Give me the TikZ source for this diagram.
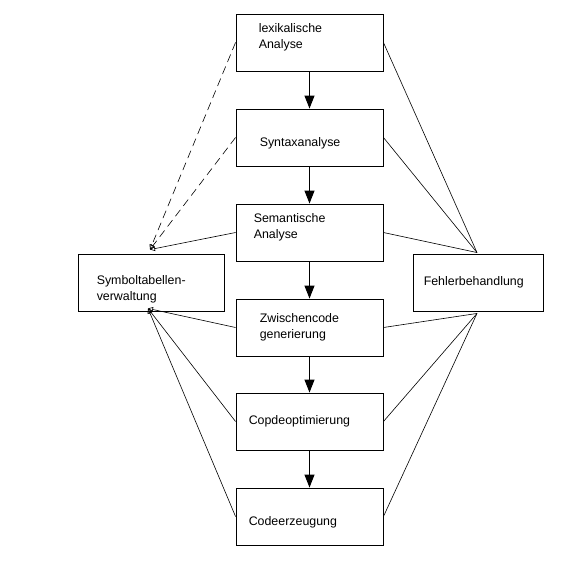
\documentclass[tikz,border=0pt]{standalone}
\usepackage{fontspec}
\setmainfont{Liberation Sans}
\usetikzlibrary{arrows.meta,calc}

\begin{document}
\begin{tikzpicture}[x=1pt,y=-1pt,
     stage/.style={draw,rectangle,line width=0.9pt,minimum width=147pt,minimum height=57pt,inner sep=0pt},
     txt/.style={anchor=west,align=left,inner sep=0pt,font=\fontsize{12.4}{16}\selectfont},
     flow/.style={line width=1pt,-{Triangle[length=13pt,width=10pt]}},
     link/.style={line width=0.6pt},
     tolink/.style={line width=0.6pt,-{Triangle[open,length=5pt,width=5pt]}}
     ]
   \useasboundingbox (0,0) rectangle (565,571);

   % the six phases, text set left in the box
   \foreach \n/\y/\dx/\dy/\desc
      in {lex/42.5/23/-5/{lexikalische\\Analyse},
          syn/137.5/24/6/Syntaxanalyse,
          sem/232.5/18/-5/{Semantische\\Analyse},
          zw/327.5/24/0/{Zwischencode\\generierung},
          opt/421.5/13/0/Copdeoptimierung,
          gen/516.5/13/6/Codeerzeugung}
   {
     \node[stage] (\n) at (309.5,\y) {};
     \node[txt] (\n-t) at ($(\n.west)+(\dx,\dy)$) {\desc};
   }

   \node[stage,minimum width=146pt] (sym) at (151,282.5) {};
   \node[txt] (sym-t) at ($(sym.west)+(19,7)$) {Symboltabellen-\\verwaltung};
   \node[stage,minimum width=130pt] (err) at (478,282.5) {};
   \node[txt] (err-t) at ($(err.west)+(11,0)$) {Fehlerbehandlung};

   \coordinate (symtop) at ($(sym.north)+(-1,-4)$);
   \coordinate (symbot) at ($(sym.south)+(-3,-3)$);
   \coordinate (errtop) at ($(err.north)+(-1,-1)$);
   \coordinate (errbot) at ($(err.south)+(-1,2)$);

   \foreach \a/\b in {lex/syn,syn/sem,sem/zw,zw/opt,opt/gen}
     \draw[flow] (\a) -- (\b);

   \foreach \n in {lex,syn}
     \draw[tolink,dash pattern=on 8pt off 5pt] (\n.west) -- (symtop);
   \draw[tolink] (sem.west) -- (symtop);
   \foreach \n in {zw,opt,gen}
     \draw[tolink] (\n.west) -- (symbot);

   \foreach \n in {lex,syn,sem}
     \draw[link] (\n.east) -- (errtop);
   \foreach \n in {zw,opt,gen}
     \draw[link] (\n.east) -- (errbot);
\end{tikzpicture}
\end{document}
